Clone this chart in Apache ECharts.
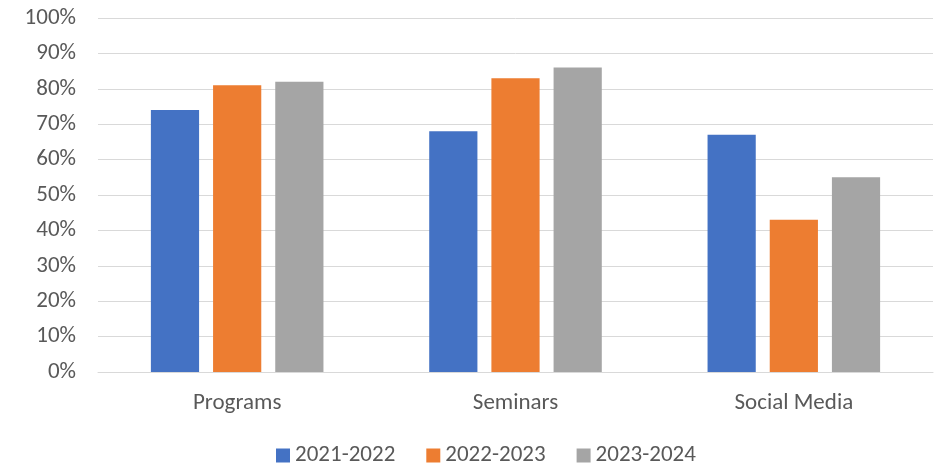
<!DOCTYPE html>
<html>
<head>
<meta charset="utf-8">
<script src="https://cdn.jsdelivr.net/npm/echarts@6/dist/echarts.min.js"></script>
<style>html,body{margin:0;padding:0;background:#fff;}#c{width:941px;height:467px;}</style>
</head>
<body>
<div id="c"></div>
<script>
const categories = ['Programs', 'Seminars', 'Social Media'];
const seriesNames = ['2021-2022', '2022-2023', '2023-2024'];
const s2021 = [74, 68, 67];
const s2022 = [81, 83, 43];
const s2023 = [82, 86, 55];
const colors = ['#4472C4', '#ED7D31', '#A5A5A5'];
const font = 'Carlito, Calibri, Lato, sans-serif';

const chart = echarts.init(document.getElementById('c'), null, {renderer: 'canvas'});
const data = [s2021, s2022, s2023];
chart.setOption({
  animation: false,
  color: colors,
  textStyle: {fontFamily: font},
  grid: {left: 98, right: 8, top: 18, bottom: 95, containLabel: false},
  legend: {
    top: 439, left: 271,
    itemWidth: 14, itemHeight: 14, itemGap: 31,
    icon: 'rect',
    textStyle: {fontSize: 23, color: '#595959', fontFamily: font},
    data: seriesNames
  },
  xAxis: {
    type: 'category', data: categories,
    axisLine: {lineStyle: {color: '#d9d9d9'}},
    axisTick: {show: false},
    axisLabel: {fontSize: 23, color: '#595959', margin: 20, fontFamily: font}
  },
  yAxis: {
    type: 'value', min: 0, max: 100, interval: 10,
    axisLabel: {formatter: '{value}%', fontSize: 23, color: '#595959', margin: 22, fontFamily: font},
    splitLine: {lineStyle: {color: '#d9d9d9', width: 1}},
    axisLine: {show: false}, axisTick: {show: false}
  },
  series: seriesNames.map((n, i) => ({
    name: n, type: 'bar', data: data[i],
    barGap: '29%', barCategoryGap: '38%'
  }))
});
</script>
</body>
</html>
